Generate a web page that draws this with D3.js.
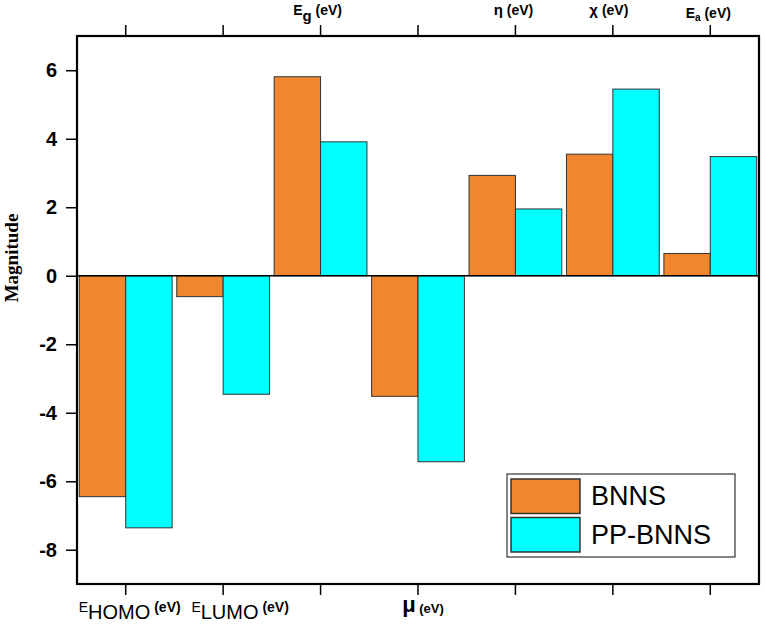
<!DOCTYPE html>
<html>
<head>
<meta charset="utf-8">
<script src="https://cdn.jsdelivr.net/npm/d3@7"></script>
<style>
  body { margin: 0; background: #fff; }
  text { font-family: "Liberation Sans", Arial, sans-serif; }
</style>
</head>
<body>
<svg id="chart" width="765" height="624"></svg>
<script>
// Data
var categories = ["E_HOMO", "E_LUMO", "E_g", "μ", "η", "χ", "E_a"];
var labelSide  = ["bottom", "bottom", "top", "bottom", "top", "top", "top"];
var seriesNames = ["BNNS", "PP-BNNS"];
var bnns   = [-6.45, -0.61, 5.81, -3.52, 2.93, 3.55, 0.65];
var ppbnns = [-7.36, -3.46, 3.91, -5.43, 1.95, 5.45, 3.48];
var yTicks = [-8, -6, -4, -2, 0, 2, 4, 6];
var yDomain = [-9, 7];

var colors = ["#F0862D", "#00FFFF"];

var margin = {top: 36, right: 6, bottom: 40, left: 77};
var width = 765 - margin.left - margin.right,
    height = 624 - margin.top - margin.bottom;

var svg = d3.select("#chart").append("g")
    .attr("transform", "translate(" + margin.left + "," + margin.top + ")");

var x = d3.scaleBand().domain(categories).range([0, width]).padding(0);
var xInner = d3.scaleBand().domain(seriesNames)
    .range([0, x.bandwidth()]).paddingInner(0).paddingOuter(0.05);
var y = d3.scaleLinear().domain(yDomain).range([height, 0]);

var rows = categories.map(function(c, i) {
  return {cat: c, values: [bnns[i], ppbnns[i]]};
});

// bars
var groups = svg.selectAll(".grp").data(rows).enter().append("g")
    .attr("transform", function(d) { return "translate(" + x(d.cat) + ",0)"; });

groups.selectAll("rect")
  .data(function(d) { return d.values.map(function(v, k) { return {name: seriesNames[k], v: v, k: k}; }); })
  .enter().append("rect")
    .attr("x", function(d) { return xInner(d.name); })
    .attr("width", xInner.bandwidth())
    .attr("y", function(d) { return y(Math.max(0, d.v)); })
    .attr("height", function(d) { return Math.abs(y(d.v) - y(0)); })
    .attr("fill", function(d) { return colors[d.k]; })
    .attr("stroke", "#333")
    .attr("stroke-width", 1);

// zero line
svg.append("line")
  .attr("x1", 0).attr("x2", width)
  .attr("y1", y(0)).attr("y2", y(0))
  .attr("stroke", "#000").attr("stroke-width", 1.5);

// y axis
var yAxis = svg.append("g")
  .attr("font-size", 20)
  .call(d3.axisLeft(y).tickValues(yTicks).tickSize(11).tickPadding(9)
        .tickFormat(function(d) { return String(d); }))
  .attr("font-size", 20)
  .attr("font-weight", "bold")
  .attr("font-family", "'Liberation Sans', Arial, sans-serif");
yAxis.select(".domain").remove();
yAxis.selectAll(".tick line").attr("stroke", "#000").attr("stroke-width", 1.5);
yAxis.selectAll(".tick text")
  .style("font-size", "20px").style("font-weight", "bold").attr("fill", "#000");

// top and bottom tick marks
var bottomAxis = svg.append("g").attr("transform", "translate(0," + height + ")")
  .call(d3.axisBottom(x).tickSize(11).tickFormat(""));
var topAxis = svg.append("g")
  .call(d3.axisTop(x).tickSize(11).tickFormat(""));
[bottomAxis, topAxis].forEach(function(a) {
  a.select(".domain").remove();
  a.selectAll(".tick line").attr("stroke", "#000").attr("stroke-width", 1.5);
});

// frame
svg.append("rect")
  .attr("x", 0).attr("y", 0).attr("width", width).attr("height", height)
  .attr("fill", "none").attr("stroke", "#000").attr("stroke-width", 2.2);

// category labels with subscripts
var nudge = {"E_HOMO": 4, "E_LUMO": 17, "E_g": -3, "μ": 5, "η": -2, "χ": -4, "E_a": -2};
categories.forEach(function(c, i) {
  var parts = c.split("_");
  var cx = x(c) + x.bandwidth() / 2 + nudge[c];
  var t = svg.append("text").attr("text-anchor", "middle").attr("fill", "#000");
  if (labelSide[i] == "bottom") {
    t.attr("x", cx).attr("y", height + 28);
    if (parts.length > 1) {
      t.append("tspan").text(parts[0]).style("font-size", "14px");
      t.append("tspan").text(parts[1]).attr("dy", 7).style("font-size", "20px");
      t.append("tspan").text(" (eV)").attr("dy", -7)
        .style("font-size", "14px").style("font-weight", "bold");
    } else {
      t.append("tspan").text(parts[0]).style("font-size", "22px").style("font-weight", "bold");
      t.append("tspan").text(" (eV)").attr("dy", 1)
        .style("font-size", "13px").style("font-weight", "bold");
    }
  } else {
    t.style("font-weight", "bold");
    if (parts.length > 1) {
      var small = parts[1] == "a";
      t.attr("x", cx).attr("y", small ? -18 : -21);
      t.append("tspan").text(parts[0]).style("font-size", "14px");
      t.append("tspan").text(parts[1]).attr("dy", small ? 3 : 6)
        .style("font-size", small ? "10px" : "15px");
      t.append("tspan").text(" (eV)").attr("dy", small ? -3 : -6)
        .style("font-size", "14px");
    } else {
      t.attr("x", cx).attr("y", -21);
      t.append("tspan").text(parts[0]).style("font-size", "15px");
      t.append("tspan").text(" (eV)").style("font-size", "14px");
    }
  }
});

// y axis title
svg.append("text")
  .attr("transform", "translate(" + (-59) + "," + (258 - margin.top) + ") rotate(-90)")
  .attr("text-anchor", "middle")
  .style("font-family", "'Liberation Serif', 'Times New Roman', serif")
  .style("font-size", "19px").style("font-weight", "bold")
  .text("Magnitude");

// legend
var legend = svg.append("g").attr("transform", "translate(" + (507 - margin.left) + "," + (474 - margin.top) + ")");
legend.append("rect")
  .attr("width", 228).attr("height", 83)
  .attr("fill", "#fff").attr("stroke", "#333").attr("stroke-width", 1.2);
seriesNames.forEach(function(n, k) {
  legend.append("rect")
    .attr("x", 4).attr("y", 5 + k * 38.5)
    .attr("width", 69).attr("height", 34.5)
    .attr("fill", colors[k]).attr("stroke", "#333").attr("stroke-width", 1.5);
  legend.append("text")
    .attr("x", 84).attr("y", 31 + k * 38.5)
    .style("font-size", "27px").attr("fill", "#000")
    .text(n);
});
</script>
</body>
</html>
